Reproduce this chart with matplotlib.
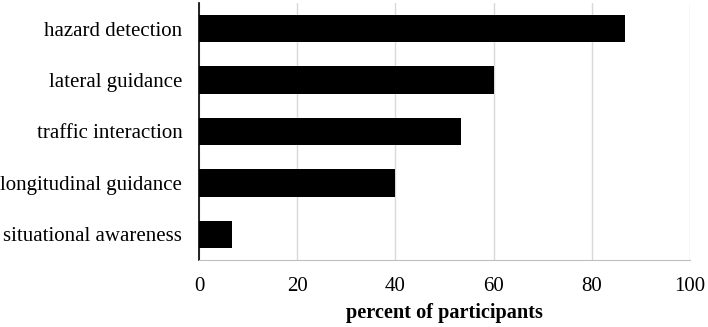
import matplotlib.pyplot as plt

categories = ['hazard detection', 'lateral guidance', 'traffic interaction',
              'longitudinal guidance', 'situational awareness']
percent = [86.7, 60.0, 53.3, 40.0, 6.7]
xticks = [0, 20, 40, 60, 80, 100]

plt.rcParams['font.family'] = ['Liberation Serif', 'DejaVu Serif']

fig = plt.figure(figsize=(7.08, 3.27), dpi=100)
ax = fig.add_axes([199 / 708, 1 - 260 / 327, (690 - 199) / 708, (260 - 3) / 327])

ax.barh(range(len(categories)), percent, height=0.53, color='black')
ax.set_ylim(len(categories) - 0.5, -0.5)
ax.set_xlim(0, 100)
ax.set_yticks(range(len(categories)))
ax.set_yticklabels(categories, fontsize=15)
ax.set_xticks(xticks)
ax.set_xticklabels([str(t) for t in xticks], fontsize=15)
ax.tick_params(length=0)
ax.tick_params(axis='y', pad=12)
ax.tick_params(axis='x', pad=12)

ax.grid(axis='x', color='#d9d9d9', linewidth=1)
ax.set_axisbelow(True)
for s in ['top', 'right']:
    ax.spines[s].set_visible(False)
ax.spines['bottom'].set_color('#bfbfbf')
ax.spines['left'].set_color('black')
ax.spines['left'].set_linewidth(1.2)

ax.set_xlabel('percent of participants', fontsize=14.6, fontweight='bold', labelpad=5)

fig.savefig('out.png', dpi=100)
